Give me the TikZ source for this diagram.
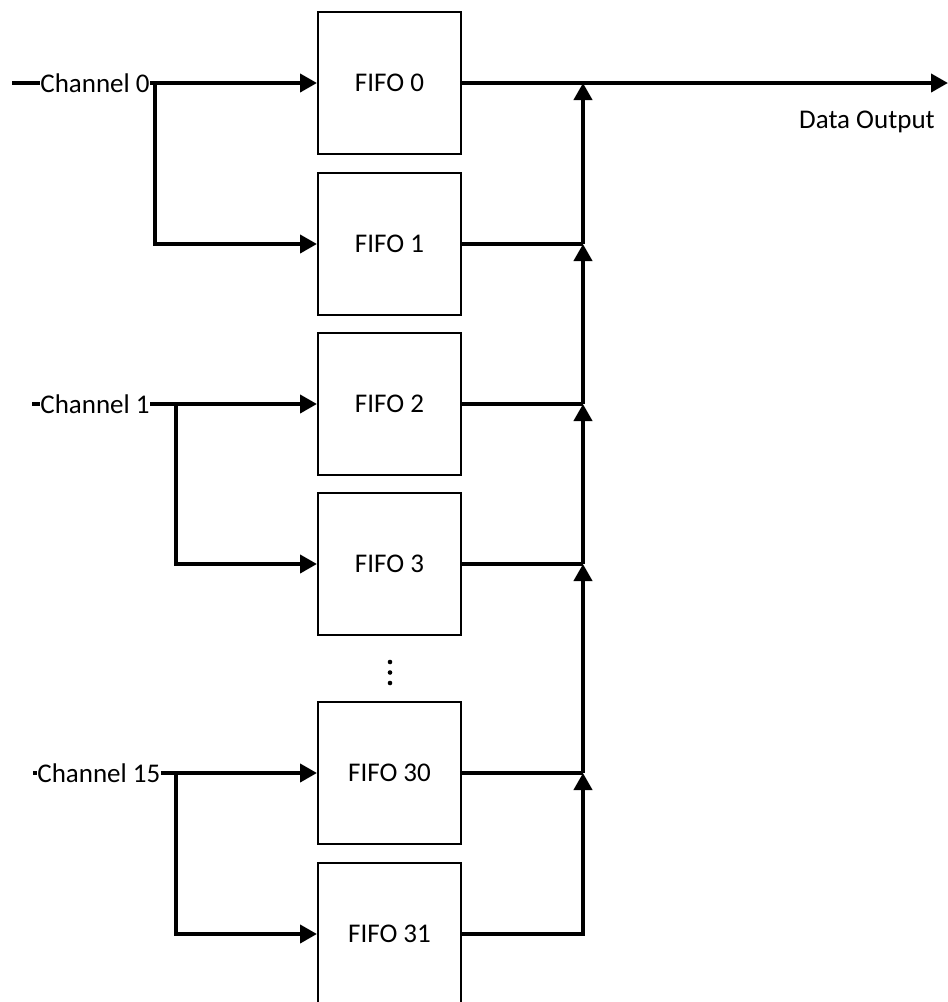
\documentclass[tikz,border=0pt]{standalone}
\usepackage{fontspec}
\setmainfont{Carlito}
\usepackage{tikz}
\usetikzlibrary{arrows.meta, positioning, calc}

\begin{document}
\begin{tikzpicture}[x=0.5pt, y=-0.5pt,
    fifo/.style={draw, line width=1pt, minimum width=71.5pt, minimum height=71pt, inner sep=0pt, font=\fontsize{13.5}{16}\selectfont},
    chan/.style={inner sep=0pt, anchor=west, font=\fontsize{13.5}{16}\selectfont},
    wire/.style={line width=2pt},
    feed/.style={line width=2pt, -{Triangle[length=8.5pt, width=9pt]}}]
\useasboundingbox (0,0) rectangle (948,1002);

% FIFO blocks
\node[fifo] (f0) at (389.5,83) {FIFO 0};
\node[fifo] (f1) at (389.5,244) {FIFO 1};
\node[fifo] (f2) at (389.5,404) {FIFO 2};
\node[fifo] (f3) at (389.5,564) {FIFO 3};
\node[fifo] (f30) at (389.5,773) {FIFO 30};
\node[fifo] (f31) at (389.5,934) {FIFO 31};

% dots between FIFO 3 and FIFO 30
\coordinate (dots) at (390,662);
\foreach \k in {0,1,2}
    \fill (dots) ++(0,\k*10.5) circle (1.15pt);

% Output bus
\coordinate (b0) at (583,83);
\coordinate (b1) at (583,244);
\coordinate (b2) at (583,404);
\coordinate (b3) at (583,564);
\coordinate (b30) at (583,773);
\coordinate (out) at (948,83);
\draw[feed] (f0.east) -- (out);
\node[font=\fontsize{13.5}{16}\selectfont] (dout) at (867,122) {Data Output};

\draw[feed] (f31.east) -| (b30);
\draw[wire] (f30.east) -- (b30);
\draw[feed] (b30) -- (b3);
\draw[wire] (f3.east) -- (b3);
\draw[feed] (b3) -- (b2);
\draw[wire] (f2.east) -- (b2);
\draw[feed] (b2) -- (b1);
\draw[wire] (f1.east) -- (b1);
\draw[feed] (b1) -- (b0);

% Channel 0
\node[chan] (c0) at (40,83) {Channel 0};
\coordinate (in0) at (12,83);
\coordinate (s0) at (155,83);
\draw[wire] (in0) -- (c0);
\draw[feed] (c0) -- (f0);
\draw[feed] (s0) |- (f1);

% Channel 1
\node[chan] (c1) at (40,404) {Channel 1};
\coordinate (in1) at (32,404);
\coordinate (s1) at (176,404);
\draw[wire] (in1) -- (c1);
\draw[feed] (c1) -- (f2);
\draw[feed] (s1) |- (f3);

% Channel 15
\node[chan] (c15) at (37,773) {Channel 15};
\coordinate (in15) at (33,773);
\coordinate (s15) at (176,773);
\draw[wire] (in15) -- (c15);
\draw[feed] (c15) -- (f30);
\draw[feed] (s15) |- (f31);
\end{tikzpicture}
\end{document}
